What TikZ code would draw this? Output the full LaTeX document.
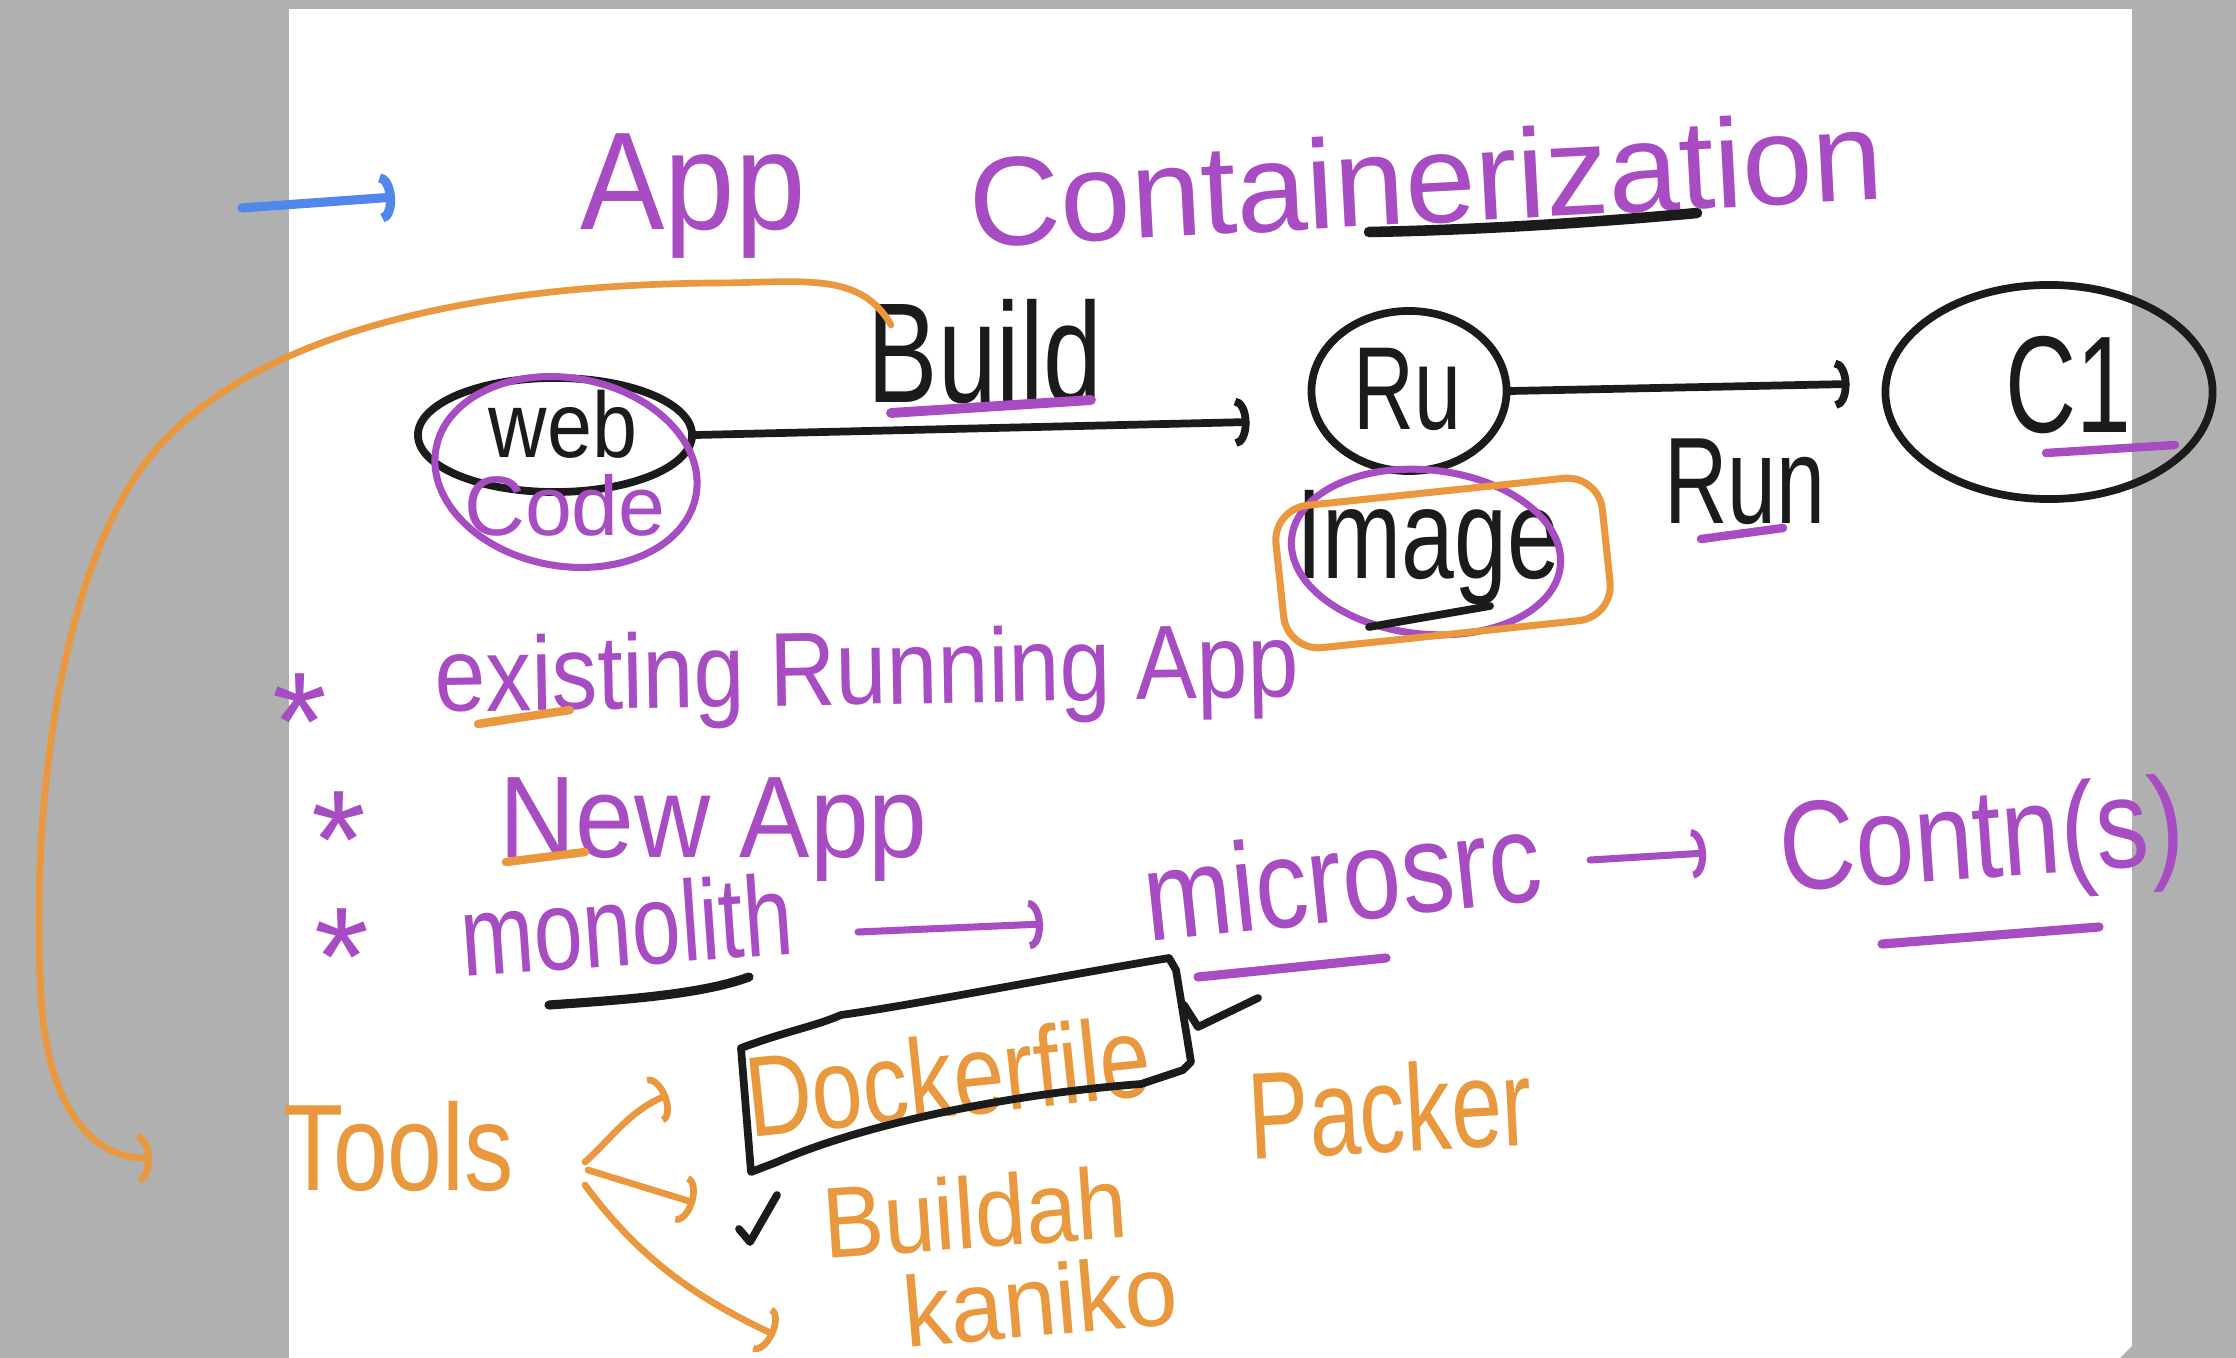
\documentclass[tikz,border=0pt]{standalone}
\usepackage{fontspec}
\setmainfont{Liberation Sans}
\usetikzlibrary{arrows.meta,shapes.geometric,calc}
\definecolor{purc}{HTML}{A84CC4}
\definecolor{orgc}{HTML}{E9983D}
\definecolor{inkc}{HTML}{1B1B1B}
\definecolor{bluc}{HTML}{5087EB}
\definecolor{bgc}{HTML}{B0B0B0}
\begin{document}
\begin{tikzpicture}[x=0.01cm,y=-0.01cm,line cap=round,line join=round,
  hw/.style={inner sep=0pt,font=\fontsize{#1pt}{#1pt}\selectfont},
  inktext/.style={text=inkc}, purtext/.style={text=purc}, orgtext/.style={text=orgc},
  inkline/.style={draw=inkc,line width=2.2pt},
  purline/.style={draw=purc,line width=2pt},
  orgline/.style={draw=orgc,line width=1.9pt},
  hooktip/.style={-{Arc Barb[width=14pt,length=4pt]}},
  oval/.style={ellipse,inner sep=0pt},
  starmark/.style={hw=40,purtext,text height=0.32em,text depth=0pt}]
\fill[bgc] (0,0) rectangle (2236,1358);
\fill[white] (289,9) rectangle (2132,1358);
\fill[bgc] (2120,1358) -- (2132,1346) -- (2132,1358) -- cycle;
\useasboundingbox (0,0) rectangle (2236,1358);

% blue arrow
\coordinate (blueS) at (242,208);
\coordinate (blueE) at (395,197);
\draw[draw=bluc,line width=2.6pt,hooktip] (blueS) -- (blueE);

% title
\node[hw=36,purtext,yscale=1.1] (app) at (693,196) {App};
\node[hw=36,purtext,rotate=3] (title) at (1426,178) {Containerization};
\draw[inkline,line width=3pt] (1369,232) .. controls (1480,230) and (1600,222) .. (1697,213);

% web code
\node[oval,draw=inkc,line width=2.2pt,minimum width=2.74cm,minimum height=1.14cm] (webov) at (555,435) {};
\node[oval,draw=purc,line width=2pt,minimum width=2.64cm,minimum height=1.88cm,rotate=-10] (codeov) at (566,472) {};
\node[hw=23,inktext,yscale=1.15] (web) at (563,424) {web};
\node[hw=24,purtext] (code) at (565,505) {Code};

% build
\node[hw=30,inktext,yscale=1.35] (build) at (985,352) {Build};
\draw[purline,line width=2.8pt] (891,413) -- (1091,400);

% Ru
\node[oval,draw=inkc,line width=2.2pt,minimum width=1.95cm,minimum height=1.6cm] (ruov) at (1409,391) {};
\node[hw=24,inktext,yscale=1.4] (ru) at (1407,389) {Ru};

% C1
\node[oval,draw=inkc,line width=2.2pt,minimum width=3.27cm,minimum height=2.14cm] (c1ov) at (2049,392) {};
\node[hw=28,inktext,yscale=1.4] (c1) at (2068,385) {C1};
\draw[purline,line width=2.4pt] (2046,453) -- (2175,445);

% connectors
\draw[inkline,hooktip] (webov.east) -- ($(ruov.west)+(-58,31)$);
\draw[inkline,hooktip] (ruov.east) -- ($(c1ov.west)+(-32,-8)$);

% Run
\node[hw=25,inktext,yscale=1.4] (run) at (1745,482) {Run};
\draw[purline,line width=2.4pt] (1701,539) -- (1783,528);

% Image
\node[hw=27,inktext,yscale=1.35] (image) at (1428,548) {Image};
\node[oval,draw=purc,line width=2pt,minimum width=2.7cm,minimum height=1.64cm,rotate=-6] (imgov) at (1426,552) {};
\node[draw=orgc,line width=2pt,rounded corners=0.35cm,minimum width=3.28cm,minimum height=1.43cm,rotate=6] (imgbox) at (1443,563) {};
\draw[inkline] (1369,627) -- (1490,606);

% orange loop from Build to Tools
\coordinate (loopS) at (891,325);
\coordinate (loopE) at (152,1158);
\draw[orgline,hooktip] (loopS) .. controls (860,270) and (800,283) .. (713,283)
  .. controls (480,285) and (240,330) .. (140,470)
  .. controls (50,600) and (30,850) .. (42,1010)
  .. controls (52,1120) and (100,1160) .. (loopE);

% bullets
\node[starmark] (star1) at (300,706) {\raisebox{-0.42em}{*}};
\node[starmark] (star2) at (339,824) {\raisebox{-0.42em}{*}};
\node[starmark] (star3) at (342,941) {\raisebox{-0.42em}{*}};

\node[hw=26,purtext,anchor=base west,rotate=1,yscale=1.15] (exist) at (435,712) {existing Running App};
\draw[orgline,line width=2.4pt] (478,724) -- (570,710);

\node[hw=30,purtext,anchor=base west,yscale=1.1] (newapp) at (499,857) {New App};
\draw[orgline,line width=2.4pt] (506,862) -- (585,852);

\node[hw=25,purtext,anchor=base west,rotate=4,yscale=1.3] (mono) at (463,977) {monolith};
\draw[inkline,line width=2.6pt] (549,1005) .. controls (620,1000) and (700,995) .. (749,977);
\coordinate (a1s) at (858,932);
\coordinate (a1e) at (1043,924);
\draw[purline,hooktip] (a1s) -- (a1e);

\node[hw=30,purtext,anchor=base west,rotate=6,yscale=1.2] (micro) at (1148,942) {microsrc};
\draw[purline,line width=2.6pt] (1198,977) -- (1386,958);
\coordinate (a2s) at (1590,860);
\coordinate (a2e) at (1706,853);
\draw[purline,hooktip] (a2s) -- (a2e);

\node[hw=30,purtext,anchor=base west,rotate=4,yscale=1.2] (contn) at (1782,892) {Contn(s)};
\draw[purline,line width=2.6pt] (1882,944) -- (2099,927);

% tools
\node[hw=28,orgtext,anchor=base west,yscale=1.25] (tools) at (283,1190) {Tools};
\node[hw=26,orgtext,rotate=6,yscale=1.25] (docker) at (948,1076) {Dockerfile};
\node[hw=26,orgtext,rotate=3,yscale=1.35] (packer) at (1390,1108) {Packer};
\node[hw=26,orgtext,rotate=4,yscale=1.1] (buildah) at (975,1212) {Buildah};
\node[hw=27,orgtext,rotate=5,yscale=1.05] (kaniko) at (1040,1300) {kaniko};

% Dockerfile box
\draw[inkline] (741,1048) -- (751,1172) -- (777,1162)
  .. controls (856,1127) and (998,1095) .. (1141,1084) -- (1183,1070)
  -- (1191,1062) -- (1176,970) -- (1169,958)
  .. controls (1055,977) and (913,1005) .. (841,1015)
  .. controls (813,1027) and (790,1030) .. (741,1048);
\draw[inkline] (1184,1005) -- (1198,1027) -- (1258,998);

% tool arrows
\coordinate (tA) at (585,1162);
\coordinate (tB) at (588,1170);
\coordinate (tC) at (585,1185);
\coordinate (tAe) at (668,1095);
\coordinate (tBe) at (695,1203);
\coordinate (tCe) at (775,1335);
\draw[orgline,hooktip] (tA) .. controls (610,1140) and (630,1110) .. (tAe);
\draw[orgline,hooktip] (tB) -- (tBe);
\draw[orgline,hooktip] (tC) .. controls (640,1260) and (700,1300) .. (tCe);

% check mark
\draw[inkline] (739,1229) -- (750,1242) -- (777,1195);
\end{tikzpicture}
\end{document}
